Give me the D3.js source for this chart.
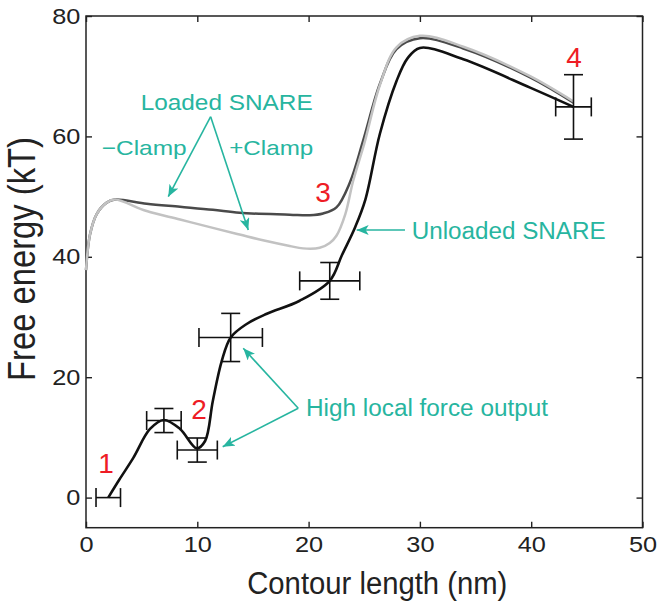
<!DOCTYPE html>
<html><head><meta charset="utf-8">
<script src="https://cdn.jsdelivr.net/npm/d3@7"></script>
<style>
html,body{margin:0;padding:0;background:#fff;}
text{font-family:"Liberation Sans",Arial,Helvetica,sans-serif;}
</style></head>
<body>
<svg id="chart" width="662" height="609"></svg>
<script>
// ---- data ----
const xTicks = [0, 10, 20, 30, 40, 50];
const yTicks = [0, 20, 40, 60, 80];

// Unloaded SNARE (black)
const unloadedX = [2, 3, 4.25, 5.75, 7.0, 8.45, 9.95, 10.7, 11.4, 12.2, 13.0, 14.4, 16.2, 19.2, 21.9, 23.0, 24.2, 25.1, 26.4, 27.9, 28.9, 30.0, 33.9, 39.9, 43.8];
const unloadedY = [0, 3.0, 6.6, 11.4, 12.9, 11.4, 8.2, 9.4, 16.1, 22.7, 26.6, 28.8, 30.5, 32.7, 36.0, 40.3, 45.0, 49.5, 60.4, 69.2, 73.0, 74.7, 72.8, 68.1, 64.9];

// Loaded SNARE, -Clamp (dark gray)
const minusClampX = [0, 0.36, 0.96, 1.86, 2.6, 5.45, 8.45, 11.4, 13.8, 18.3, 20.1, 21.3, 22.5, 23.7, 24.9, 26.4, 27.9, 30.0, 33.9, 39.9, 43.8];
const minusClampY = [37.8, 43.7, 47.1, 49.0, 49.5, 48.8, 48.3, 47.8, 47.3, 47.0, 46.9, 47.2, 48.2, 52.3, 59.3, 68.7, 74.5, 76.3, 74.6, 69.8, 65.6];

// Loaded SNARE, +Clamp (light gray)
const plusClampX = [0, 0.36, 0.96, 1.86, 2.6, 5.45, 8.45, 11.4, 13.8, 16.0, 18.3, 19.5, 21.0, 21.9, 22.5, 23.3, 24.0, 25.0, 26.4, 27.9, 30.0, 33.9, 39.9, 43.8];
const plusClampY = [37.8, 43.7, 47.1, 49.0, 49.5, 47.6, 46.2, 44.8, 43.7, 42.7, 41.8, 41.4, 41.5, 42.3, 43.5, 47.1, 52.6, 58.8, 68.5, 74.8, 76.7, 74.9, 70.0, 65.8];

// Error bars (center, half-widths)
const errX  = [2, 7, 10, 13, 21.9, 43.8];
const errY  = [0, 12.8, 7.9, 26.6, 36.0, 64.9];
const errDX = [1.1, 1.55, 1.8, 2.85, 2.7, 1.6];
const errDY = [0, 2.0, 2.0, 4.0, 3.05, 5.35];

// State labels
const stateLabels = ["1", "2", "3", "4"];
const stateX = [1.8, 10.15, 21.29, 43.84];
const stateY = [4.1, 13.06, 49.1, 71.53];

// ---- layout ----
const svg = d3.select("#chart");
const mLeft = 86, mRight = 642.5, mTop = 16, mBottom = 527.7;
const x = d3.scaleLinear().domain([0, 50]).range([mLeft, mRight]);
const y = d3.scaleLinear().domain([-5, 80]).range([mBottom, mTop]);

const TEAL = "#27b5a0", RED = "#ee1c25";

// frame
svg.append("rect").attr("x", mLeft).attr("y", mTop)
  .attr("width", mRight - mLeft).attr("height", mBottom - mTop)
  .attr("fill", "none").attr("stroke", "#222").attr("stroke-width", 1.5);

function styleAxis(g) {
  g.select(".domain").remove();
  g.selectAll(".tick line").attr("stroke", "#222").attr("stroke-width", 1.4);
  g.selectAll(".tick text").attr("fill", "#222").attr("font-size", 22)
    .attr("font-family", "Liberation Sans, Arial, sans-serif");
}
const gx = svg.append("g").attr("transform", `translate(0,${mBottom})`)
  .call(d3.axisBottom(x).tickValues(xTicks).tickFormat(d3.format("d")).tickSize(-6).tickPadding(9));
styleAxis(gx);
gx.selectAll(".tick text").attr("transform", "scale(1.15,1)");
const gxt = svg.append("g").attr("transform", `translate(0,${mTop})`)
  .call(d3.axisTop(x).tickValues(xTicks).tickFormat("").tickSize(-6));
styleAxis(gxt);
const gy = svg.append("g").attr("transform", `translate(${mLeft},0)`)
  .call(d3.axisLeft(y).tickValues(yTicks).tickFormat(d3.format("d")).tickSize(-6).tickPadding(5));
styleAxis(gy);
gy.selectAll(".tick text").attr("transform", "scale(1.15,1)");
const gyr = svg.append("g").attr("transform", `translate(${mRight},0)`)
  .call(d3.axisRight(y).tickValues(yTicks).tickFormat("").tickSize(-6));
styleAxis(gyr);

// axis titles
svg.append("text").attr("x", (mLeft + mRight) / 2 + 13).attr("y", 594)
  .attr("text-anchor", "middle").attr("font-size", 31).attr("fill", "#222")
  .attr("textLength", 260).attr("lengthAdjust", "spacingAndGlyphs")
  .text("Contour length (nm)");
svg.append("text").attr("transform", "translate(35,259) rotate(-90)")
  .attr("text-anchor", "middle").attr("font-size", 38).attr("fill", "#222")
  .attr("textLength", 244).attr("lengthAdjust", "spacingAndGlyphs")
  .text("Free energy (kT)");

// curves
const line = d3.line().x(d => x(d[0])).y(d => y(d[1])).curve(d3.curveCatmullRom.alpha(0.5));
const zip = (a, b) => a.map((v, i) => [v, b[i]]);
svg.append("path").attr("d", line(zip(minusClampX, minusClampY)))
  .attr("fill", "none").attr("stroke", "#4a4a4a").attr("stroke-width", 2.5);
svg.append("path").attr("d", line(zip(plusClampX, plusClampY)))
  .attr("fill", "none").attr("stroke", "#c2c2c2").attr("stroke-width", 2.5);
svg.append("path").attr("d", line(zip(unloadedX, unloadedY)))
  .attr("fill", "none").attr("stroke", "#111").attr("stroke-width", 2.6);

// error bars
const cap = 9.5;
const eb = svg.append("g").attr("stroke", "#111").attr("stroke-width", 1.6).attr("fill", "none");
errX.forEach((cx, i) => {
  const g = eb.append("g");
  const x0 = x(cx - errDX[i]), x1 = x(cx + errDX[i]), yc = y(errY[i]);
  g.append("line").attr("x1", x0).attr("x2", x1).attr("y1", yc).attr("y2", yc);
  g.append("line").attr("x1", x0).attr("x2", x0).attr("y1", yc - cap).attr("y2", yc + cap);
  g.append("line").attr("x1", x1).attr("x2", x1).attr("y1", yc - cap).attr("y2", yc + cap);
  if (errDY[i] > 0) {
    const y0 = y(errY[i] - errDY[i]), y1 = y(errY[i] + errDY[i]), xc = x(cx);
    g.append("line").attr("x1", xc).attr("x2", xc).attr("y1", y0).attr("y2", y1);
    g.append("line").attr("x1", xc - cap).attr("x2", xc + cap).attr("y1", y0).attr("y2", y0);
    g.append("line").attr("x1", xc - cap).attr("x2", xc + cap).attr("y1", y1).attr("y2", y1);
  }
});

// state labels
stateLabels.forEach((t, i) => {
  svg.append("text").attr("x", x(stateX[i])).attr("y", y(stateY[i]))
    .attr("text-anchor", "middle").attr("font-size", 28).attr("fill", RED).text(t);
});

// annotations
svg.append("defs").append("marker").attr("id", "ah")
  .attr("viewBox", "0 0 12 10").attr("refX", 12).attr("refY", 5)
  .attr("markerWidth", 12).attr("markerHeight", 10).attr("markerUnits", "userSpaceOnUse")
  .attr("orient", "auto")
  .append("path").attr("d", "M0,0 L12,5 L0,10 L3,5 Z").attr("fill", TEAL);

const arrows = [
  [[11.20, 63.27], [7.39, 49.98]],
  [[11.20, 63.27], [14.58, 44.45]],
  [[28.66, 44.45], [24.32, 44.45]],
  [[19.07, 14.83], [14.13, 24.80]],
  [[19.07, 14.83], [12.28, 8.45]]
];
arrows.forEach(([a, b]) => {
  svg.append("line").attr("x1", x(a[0])).attr("y1", y(a[1]))
    .attr("x2", x(b[0])).attr("y2", y(b[1]))
    .attr("stroke", TEAL).attr("stroke-width", 1.6).attr("marker-end", "url(#ah)");
});

const notes = [
  {t: "Loaded SNARE", x: 12.64, y: 64.38, a: "middle", fs: 22, w: 172},
  {t: "\u2212Clamp", x: 1.41, y: 56.87, a: "start", fs: 21, w: 85},
  {t: "+Clamp", x: 12.87, y: 56.87, a: "start", fs: 21, w: 84},
  {t: "Unloaded SNARE", x: 29.26, y: 42.96, a: "start", fs: 23, w: 194},
  {t: "High local force output", x: 19.77, y: 13.55, a: "start", fs: 23, w: 242}
];
notes.forEach(n => {
  svg.append("text").attr("x", x(n.x)).attr("y", y(n.y))
    .attr("text-anchor", n.a).attr("font-size", n.fs).attr("fill", TEAL)
    .attr("textLength", n.w).attr("lengthAdjust", "spacingAndGlyphs")
    .text(n.t);
});
</script>
</body></html>
